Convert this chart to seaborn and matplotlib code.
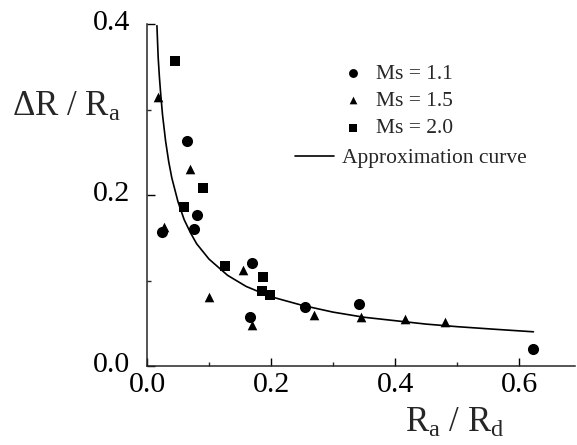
import matplotlib
matplotlib.use("Agg")
import matplotlib.pyplot as plt
import matplotlib.transforms as mtransforms
import seaborn as sns
import pandas as pd

# ---- data ----
ms11_x = [0.065, 0.080, 0.075, 0.024, 0.170, 0.166, 0.254, 0.341, 0.622]
ms11_y = [0.263, 0.177, 0.160, 0.157, 0.120, 0.057, 0.069, 0.073, 0.020]

ms15_x = [0.018, 0.070, 0.028, 0.154, 0.100, 0.169, 0.269, 0.345, 0.416, 0.481]
ms15_y = [0.315, 0.230, 0.163, 0.112, 0.081, 0.048, 0.060, 0.057, 0.055, 0.051]

ms20_x = [0.045, 0.090, 0.059, 0.126, 0.187, 0.185, 0.198]
ms20_y = [0.357, 0.208, 0.186, 0.117, 0.104, 0.088, 0.083]

curve_x = [0.016, 0.018, 0.020, 0.022, 0.025, 0.030, 0.035, 0.040, 0.050, 0.060,
           0.070, 0.080, 0.100, 0.130, 0.160, 0.200, 0.250, 0.300, 0.350, 0.400,
           0.450, 0.500, 0.560, 0.623]
curve_y = [0.398, 0.361, 0.338, 0.319, 0.294, 0.263, 0.239, 0.220, 0.192, 0.171,
           0.156, 0.143, 0.125, 0.106, 0.093, 0.081, 0.071, 0.063, 0.057, 0.053,
           0.049, 0.046, 0.043, 0.040]

series_labels = ["Ms = 1.1", "Ms = 1.5", "Ms = 2.0"]
curve_label = "Approximation curve"

xticks_major = [0.0, 0.2, 0.4, 0.6]
xtick_labels = ["0.0", "0.2", "0.4", "0.6"]
xticks_minor = [0.1, 0.3, 0.5]
yticks_major = [0.0, 0.2, 0.4]
ytick_labels = ["0.0", "0.2", "0.4"]
yticks_minor = [0.1, 0.3]

# ---- style ----
sns.set_style("ticks")
plt.rcParams["font.family"] = ["Liberation Serif", "DejaVu Serif"]
plt.rcParams["mathtext.fontset"] = "custom"
plt.rcParams["mathtext.rm"] = "Liberation Serif"
plt.rcParams["mathtext.it"] = "Liberation Serif"
plt.rcParams["axes.linewidth"] = 1.1

fig = plt.figure(figsize=(5.77, 4.45), dpi=100)
L, B, W, H = 147, 79, 428, 342
ax = fig.add_axes([L / 577, B / 445, W / 577, H / 445])

df1 = pd.DataFrame({"x": ms11_x, "y": ms11_y})
df2 = pd.DataFrame({"x": ms15_x, "y": ms15_y})
df3 = pd.DataFrame({"x": ms20_x, "y": ms20_y})
dfc = pd.DataFrame({"x": curve_x, "y": curve_y})

sns.lineplot(data=dfc, x="x", y="y", ax=ax, color="black", lw=1.2,
             sort=False, estimator=None, label=curve_label, legend=False)
sns.scatterplot(data=df1, x="x", y="y", ax=ax, marker="o", s=64, color="black",
                linewidth=0, label=series_labels[0], legend=False, zorder=3)
sns.scatterplot(data=df2, x="x", y="y", ax=ax, marker="^", s=48, color="black",
                linewidth=0, label=series_labels[1], legend=False, zorder=3)
sns.scatterplot(data=df3, x="x", y="y", ax=ax, marker="s", s=52, color="black",
                linewidth=0, label=series_labels[2], legend=False, zorder=3)

ax.set_xlim(0, 0.69)
ax.set_ylim(0, 0.4)
ax.set_xticks(xticks_major)
ax.set_xticklabels(xtick_labels)
ax.set_xticks(xticks_minor, minor=True)
ax.set_yticks(yticks_major)
ax.set_yticklabels(ytick_labels)
ax.set_yticks(yticks_minor, minor=True)
ax.tick_params(which="major", direction="in", length=5.8, width=1.0,
               labelsize=21.5, colors="black")
ax.tick_params(axis="y", which="major", pad=12)
ax.tick_params(axis="x", which="major", pad=4)
ax.tick_params(which="minor", direction="in", length=3.2, width=1.0)
sns.despine(ax=ax)

# raise y tick labels slightly, as in the reference
shift = mtransforms.ScaledTranslation(0, 4 / 100, fig.dpi_scale_trans)
for t in ax.get_yticklabels():
    t.set_transform(t.get_transform() + shift)

ax.set_xlabel(r"R$_\mathrm{a}$ / R$_\mathrm{d}$", fontsize=25, va="baseline")
ax.set_ylabel(r"$\Delta$R / R$_\mathrm{a}$", fontsize=25, rotation=0,
              ha="center", va="baseline")
ax.xaxis.set_label_coords((455 - L) / W, (366 - 432) / H)
ax.yaxis.set_label_coords((66 - L) / W, (366 - 116) / H)

handles, labels = ax.get_legend_handles_labels()
hmap = dict(zip(labels, handles))
leg1 = ax.legend([hmap[l] for l in series_labels], series_labels,
                 loc="center left", bbox_to_anchor=((342 - L) / W, (366 - 101) / H),
                 frameon=False, fontsize=15.5, borderpad=0, borderaxespad=0,
                 handlelength=1.0, handletextpad=0.6, labelspacing=0.34,
                 markerscale=0.8)
ax.add_artist(leg1)
ax.legend([hmap[curve_label]], [curve_label],
          loc="center left", bbox_to_anchor=((295 - L) / W, (366 - 158) / H),
          frameon=False, fontsize=15.5, borderpad=0, borderaxespad=0,
          handlelength=1.8, handletextpad=0.4)

fig.savefig("out.png", dpi=100)
